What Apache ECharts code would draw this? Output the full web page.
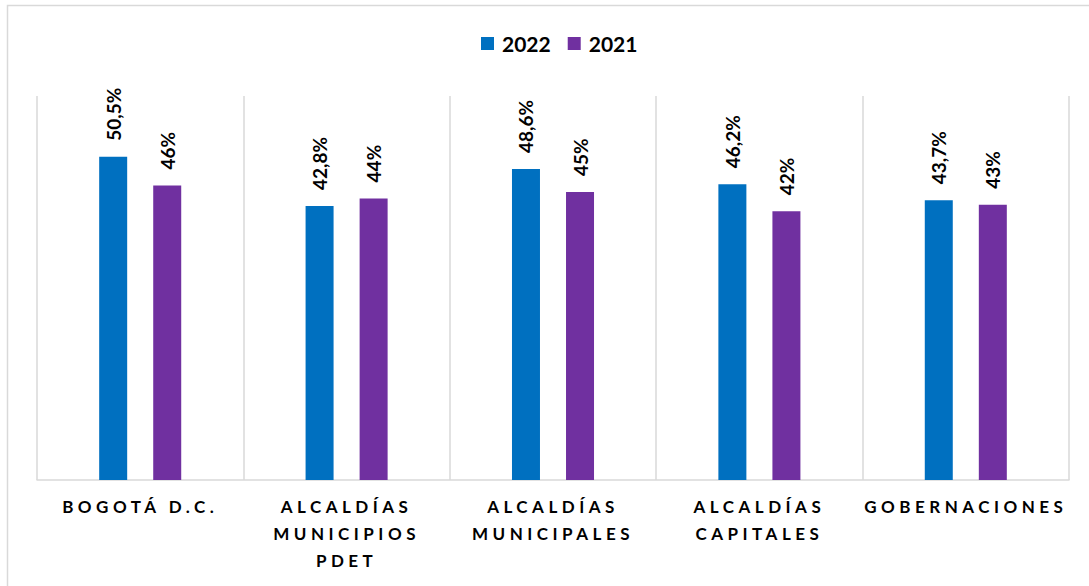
<!DOCTYPE html>
<html>
<head>
<meta charset="utf-8">
<script src="https://cdn.jsdelivr.net/npm/echarts@6/dist/echarts.min.js"></script>
<style>
  html, body { margin: 0; padding: 0; background: #fff; }
  #chart { width: 1089px; height: 586px; }
  /* letter spacing for the category labels (svg renderer) */
  #chart text[style*="17px"] { letter-spacing: 4.5px; }
</style>
</head>
<body>
<div id="chart"></div>
<script>
// datos
var categorias = ['BOGOTÁ D.C.', 'ALCALDÍAS\nMUNICIPIOS\nPDET', 'ALCALDÍAS\nMUNICIPALES', 'ALCALDÍAS\nCAPITALES', 'GOBERNACIONES'];
var valores2022 = [50.5, 42.8, 48.6, 46.2, 43.7];
var valores2021 = [46, 44, 45, 42, 43];

var fuente = 'Lato, "Noto Sans", sans-serif';

function etiqueta(p) {
  return String(p.value).replace('.', ',') + '%';
}

var labelCfg = {
  show: true,
  position: 'top',
  rotate: 90,
  align: 'left',
  verticalAlign: 'middle',
  distance: 16,
  color: '#000',
  fontFamily: fuente,
  fontWeight: 'bold',
  fontSize: 19,
  formatter: etiqueta
};

var chart = echarts.init(document.getElementById('chart'), null, { renderer: 'svg' });
chart.setOption({
  animation: false,
  backgroundColor: '#fff',
  graphic: [{
    type: 'rect',
    shape: { x: 7.5, y: 5.5, width: 1200, height: 700 },
    style: { fill: 'none', stroke: '#d9d9d9', lineWidth: 1.5 },
    silent: true
  }],
  legend: {
    top: 28,
    left: 476,
    itemWidth: 13,
    itemHeight: 13,
    itemGap: 17,
    icon: 'rect',
    textStyle: { fontFamily: fuente, fontWeight: 'bold', fontSize: 21, color: '#000', padding: [0, 0, 0, 3] },
    data: ['2022', '2021']
  },
  grid: { left: 37, right: 20, top: 96, bottom: 106 },
  xAxis: {
    type: 'category',
    data: categorias,
    axisLine: { lineStyle: { color: '#d9d9d9', width: 1.5 } },
    axisTick: { show: false },
    splitLine: { show: true, interval: 0, lineStyle: { color: '#d9d9d9', width: 1.5 } },
    axisLabel: {
      interval: 0,
      margin: 13,
      color: '#000',
      fontFamily: fuente,
      fontWeight: 'bold',
      fontSize: 17,
      lineHeight: 27
    }
  },
  yAxis: {
    type: 'value',
    min: 0,
    max: 60,
    show: false
  },
  series: [{
    name: '2022',
    type: 'bar',
    data: valores2022,
    barWidth: 28,
    barGap: '93%',
    itemStyle: { color: '#0070C0' },
    label: labelCfg
  }, {
    name: '2021',
    type: 'bar',
    data: valores2021,
    barWidth: 28,
    itemStyle: { color: '#7030A0' },
    label: labelCfg
  }]
});
</script>
</body>
</html>
